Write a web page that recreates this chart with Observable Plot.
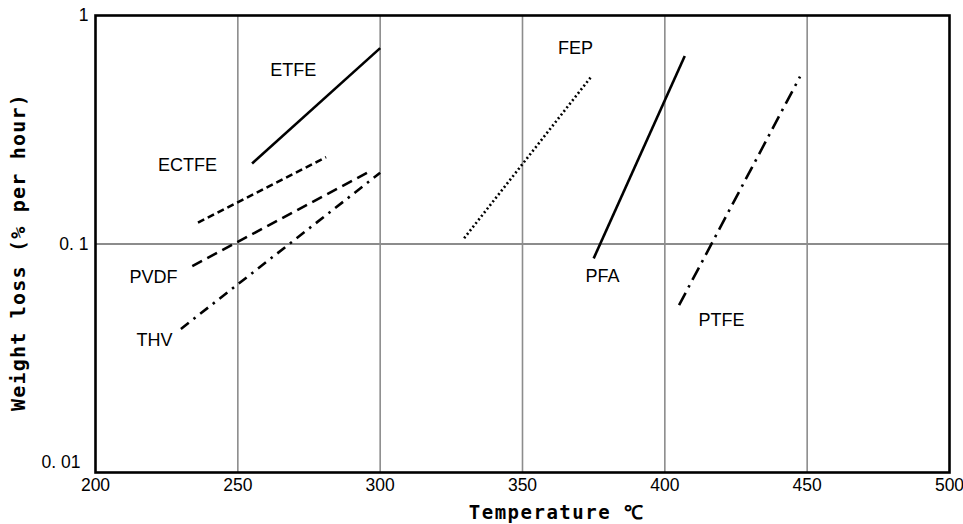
<!DOCTYPE html>
<html>
<head>
<meta charset="utf-8">
<script src="https://cdn.jsdelivr.net/npm/d3@7"></script>
<script src="https://cdn.jsdelivr.net/npm/@observablehq/plot@0.6"></script>
<style>
  html, body { margin: 0; padding: 0; background: #fff; }
  .xlab text { letter-spacing: 1.5px; }
  .ylab text { letter-spacing: 1.2px; }
</style>
</head>
<body>
<div id="chart"></div>
<script>
// Data
const series = ["ETFE", "ECTFE", "PVDF", "THV", "FEP", "PFA", "PTFE"];
const tempStart = [255, 236, 234, 230, 329.5, 375, 405];
const tempEnd = [300, 281, 297, 300, 374, 407, 447.5];
const lossStart = [0.225, 0.124, 0.08, 0.0425, 0.106, 0.0865, 0.054];
const lossEnd = [0.72, 0.24, 0.21, 0.205, 0.537, 0.665, 0.54];
const dashes = [null, "7,4", "11,6", "10,6,2.5,6", "2,2.6", null, "14,6,2.5,6"];
const labelTemp = [269.5, 232.3, 220.4, 220.7, 368.6, 378.1, 419.9];
const labelLoss = [0.574, 0.221, 0.0714, 0.0378, 0.717, 0.0721, 0.0463];

const xTicks = [200, 250, 300, 350, 400, 450, 500];
const xGrid = [250, 300, 350, 400, 450];
const yTicks = [1, 0.1, 0.01];
const yTickLabels = ["1", "0. 1", "0. 01"];
const yGrid = [0.1];
const xTitle = "Temperature \u2103";
const yTitle = "Weight loss (% per hour)";

const lineMarks = series.map((name, i) =>
  Plot.line(
    [{t: tempStart[i], v: lossStart[i]}, {t: tempEnd[i], v: lossEnd[i]}],
    {x: "t", y: "v", stroke: "black", strokeWidth: 2.6,
     strokeDasharray: dashes[i] || undefined, strokeLinecap: "butt"}
  )
);

const labels = series.map((name, i) => ({name, t: labelTemp[i], v: labelLoss[i]}));
const yLab = (v) => yTickLabels[yTicks.indexOf(v)];

const chart = Plot.plot({
  width: 963,
  height: 524,
  marginLeft: 95,
  marginRight: 14,
  marginTop: 15,
  marginBottom: 52,
  x: {type: "linear", domain: [200, 500]},
  y: {type: "log", domain: [0.01, 1]},
  style: {fontFamily: "'Liberation Sans', Arial, sans-serif", background: "white", color: "black"},
  marks: [
    Plot.ruleX(xGrid, {stroke: "#8c8c8c", strokeWidth: 1.6}),
    Plot.ruleY(yGrid, {stroke: "#8c8c8c", strokeWidth: 2.2}),
    ...lineMarks,
    Plot.text(labels, {x: "t", y: "v", text: "name", fontSize: 18, fill: "black"}),
    Plot.frame({stroke: "black", strokeWidth: 2.6}),
    Plot.axisX(xTicks, {tickSize: 0, tickPadding: 6, fontSize: 17.5, label: null, tickFormat: d => String(d)}),
    Plot.axisY([1, 0.1], {tickSize: 0, tickPadding: 7, fontSize: 17.5, label: null, tickFormat: yLab}),
    Plot.axisY([0.01], {tickSize: 0, tickPadding: 15, fontSize: 17.5, label: null, tickFormat: yLab, dy: -10}),
    Plot.text([xTitle], {frameAnchor: "bottom", x: [362], text: d => d, dy: 40, lineAnchor: "middle", textAnchor: "middle",
      fontFamily: "'DejaVu Sans Mono', monospace", fontWeight: "bold", fontSize: 19, className: "xlab"}),
    Plot.text([yTitle], {frameAnchor: "left", text: d => d, dx: -77, dy: 8, rotate: -90, textAnchor: "middle", lineAnchor: "middle",
      fontFamily: "'DejaVu Sans Mono', monospace", fontWeight: "bold", fontSize: 20, className: "ylab"})
  ]
});
document.getElementById("chart").appendChild(chart);
</script>
</body>
</html>
